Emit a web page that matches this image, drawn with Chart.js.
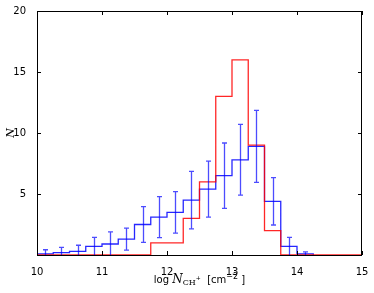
<!DOCTYPE html>
<html lang="en">
<head>
    <meta charset="UTF-8">
    <title>CH+ column density histogram</title>
    <style>
        body { margin: 0; background: #fff; }
        canvas { display: block; }
    </style>
    <script src="https://cdn.jsdelivr.net/npm/chart.js"></script>
</head>
<body>
    <canvas id="histChart" width="374" height="293"></canvas>

    <script>
        // bin left edges (width 0.25 in log N)
        const binEdges = [10.0, 10.25, 10.5, 10.75, 11.0, 11.25, 11.5, 11.75, 12.0, 12.25,
                          12.5, 12.75, 13.0, 13.25, 13.5, 13.75, 14.0, 14.25, 14.5, 14.75];
        const binWidth = 0.25;

        // observed counts (red)
        const redCounts = [0, 0, 0, 0, 0, 0, 0, 1, 1, 3, 6, 13, 16, 9, 2, 0, 0, 0, 0, 0];

        // model counts (blue) and their errors
        const blueCounts = [0.1, 0.2, 0.3, 0.7, 0.9, 1.3, 2.5, 3.1, 3.5, 4.5,
                            5.4, 6.5, 7.8, 8.9, 4.4, 0.7, 0.1];
        const blueErrors = [0.33, 0.43, 0.5, 0.75, 1.0, 0.9, 1.47, 1.68, 1.7, 2.36,
                            2.3, 2.68, 2.9, 2.95, 1.94, 0.75, 0.15];

        const xTicks = [10, 11, 12, 13, 14, 15];
        const yTicks = [0, 5, 10, 15, 20];

        // turn bin counts into step points
        function stepPoints(counts, endValue) {
            const pts = counts.map((c, i) => ({ x: binEdges[i], y: c }));
            const last = binEdges[counts.length - 1] + binWidth;
            pts.push({ x: last, y: endValue });
            return pts;
        }

        // error bars, inward ticks, frame and the axis labels
        const extras = {
            id: 'extras',
            afterDatasetsDraw(chart) {
                const { ctx, chartArea: a, scales: { x, y } } = chart;
                ctx.save();
                ctx.beginPath();
                ctx.rect(a.left, a.top, a.right - a.left, a.bottom - a.top);
                ctx.clip();
                ctx.strokeStyle = 'rgba(0, 0, 255, 0.7)';
                ctx.lineWidth = 1.3;
                blueCounts.forEach((v, i) => {
                    const px = Math.round(x.getPixelForValue(binEdges[i] + binWidth / 2)) + 0.5;
                    const top = y.getPixelForValue(v + blueErrors[i]);
                    const bot = y.getPixelForValue(Math.max(v - blueErrors[i], 0));
                    ctx.beginPath();
                    ctx.moveTo(px, top); ctx.lineTo(px, bot);
                    ctx.moveTo(px - 2.5, top); ctx.lineTo(px + 2.5, top);
                    if (v - blueErrors[i] > 0) {
                        ctx.moveTo(px - 2.5, bot); ctx.lineTo(px + 2.5, bot);
                    }
                    ctx.stroke();
                });
                ctx.restore();

                ctx.save();
                ctx.strokeStyle = '#000';
                ctx.lineWidth = 1;
                ctx.strokeRect(a.left + 0.5, a.top + 0.5, a.right - a.left - 1, a.bottom - a.top);
                ctx.beginPath();
                xTicks.forEach(t => {
                    const px = Math.round(x.getPixelForValue(t)) + 0.5;
                    ctx.moveTo(px, a.bottom); ctx.lineTo(px, a.bottom - 4);
                    ctx.moveTo(px, a.top); ctx.lineTo(px, a.top + 4);
                });
                yTicks.forEach(t => {
                    const py = Math.round(y.getPixelForValue(t)) + 0.5;
                    ctx.moveTo(a.left, py); ctx.lineTo(a.left + 4, py);
                    ctx.moveTo(a.right, py); ctx.lineTo(a.right - 4, py);
                });
                ctx.stroke();

                ctx.fillStyle = '#000';
                ctx.textBaseline = 'alphabetic';
                ctx.textAlign = 'left';

                // y axis label
                ctx.save();
                ctx.translate(14, (a.top + a.bottom) / 2);
                ctx.rotate(-Math.PI / 2);
                ctx.font = 'italic 11px "DejaVu Serif"';
                ctx.textAlign = 'center';
                ctx.fillText('N', 0, 0);
                ctx.restore();

                // x axis label with sub/superscripts
                const parts = [
                    { t: 'log ', f: '10px "DejaVu Sans"', dy: 0 },
                    { t: 'N', f: 'italic 12px "DejaVu Serif"', dy: 0 },
                    { t: 'CH', f: '8px "DejaVu Serif"', dy: 2 },
                    { t: '+', f: '6px "DejaVu Sans"', dy: -3 },
                    { t: '  [cm', f: '10px "DejaVu Sans"', dy: 0 },
                    { t: '\u22122', f: '8px "DejaVu Sans"', dy: -4 },
                    { t: ' ]', f: '10px "DejaVu Sans"', dy: 0 }
                ];
                let total = 0;
                parts.forEach(p => { ctx.font = p.f; p.w = ctx.measureText(p.t).width; total += p.w; });
                let cx = (a.left + a.right) / 2 - total / 2;
                const base = 283;
                parts.forEach(p => {
                    ctx.font = p.f;
                    ctx.fillText(p.t, cx, base + p.dy);
                    cx += p.w;
                });
                ctx.restore();
            }
        };

        new Chart(document.getElementById('histChart'), {
            type: 'line',
            data: {
                datasets: [
                    {
                        label: 'observed',
                        data: stepPoints(redCounts, 0),
                        stepped: 'before',
                        borderColor: 'rgba(255, 0, 0, 0.85)',
                        borderWidth: 1.3,
                        pointRadius: 0,
                        fill: false,
                        clip: 3
                    },
                    {
                        label: 'model',
                        data: stepPoints(blueCounts, 0),
                        stepped: 'before',
                        borderColor: 'rgba(0, 0, 255, 0.85)',
                        borderWidth: 1.3,
                        pointRadius: 0,
                        fill: false,
                        clip: 3
                    }
                ]
            },
            options: {
                responsive: false,
                animation: false,
                layout: { padding: { left: 0, top: 11, right: 12, bottom: 0 } },
                plugins: { legend: { display: false }, tooltip: { enabled: false } },
                scales: {
                    x: {
                        type: 'linear',
                        min: 10, max: 15,
                        afterBuildTicks: s => { s.ticks = xTicks.map(v => ({ value: v })); },
                        ticks: { color: '#000', font: { family: 'DejaVu Sans', size: 10 }, padding: 3, maxRotation: 0 },
                        grid: { display: false },
                        border: { display: false },
                        afterFit: s => { s.height = 38; }
                    },
                    y: {
                        min: 0, max: 20,
                        afterBuildTicks: s => { s.ticks = yTicks.map(v => ({ value: v })); },
                        ticks: {
                            color: '#000',
                            font: { family: 'DejaVu Sans', size: 10 },
                            padding: 3,
                            callback: v => (v === 0 ? '' : v)
                        },
                        grid: { display: false },
                        border: { display: false },
                        afterFit: s => { s.width = 37; }
                    }
                }
            },
            plugins: [extras]
        });
    </script>
</body>
</html>
